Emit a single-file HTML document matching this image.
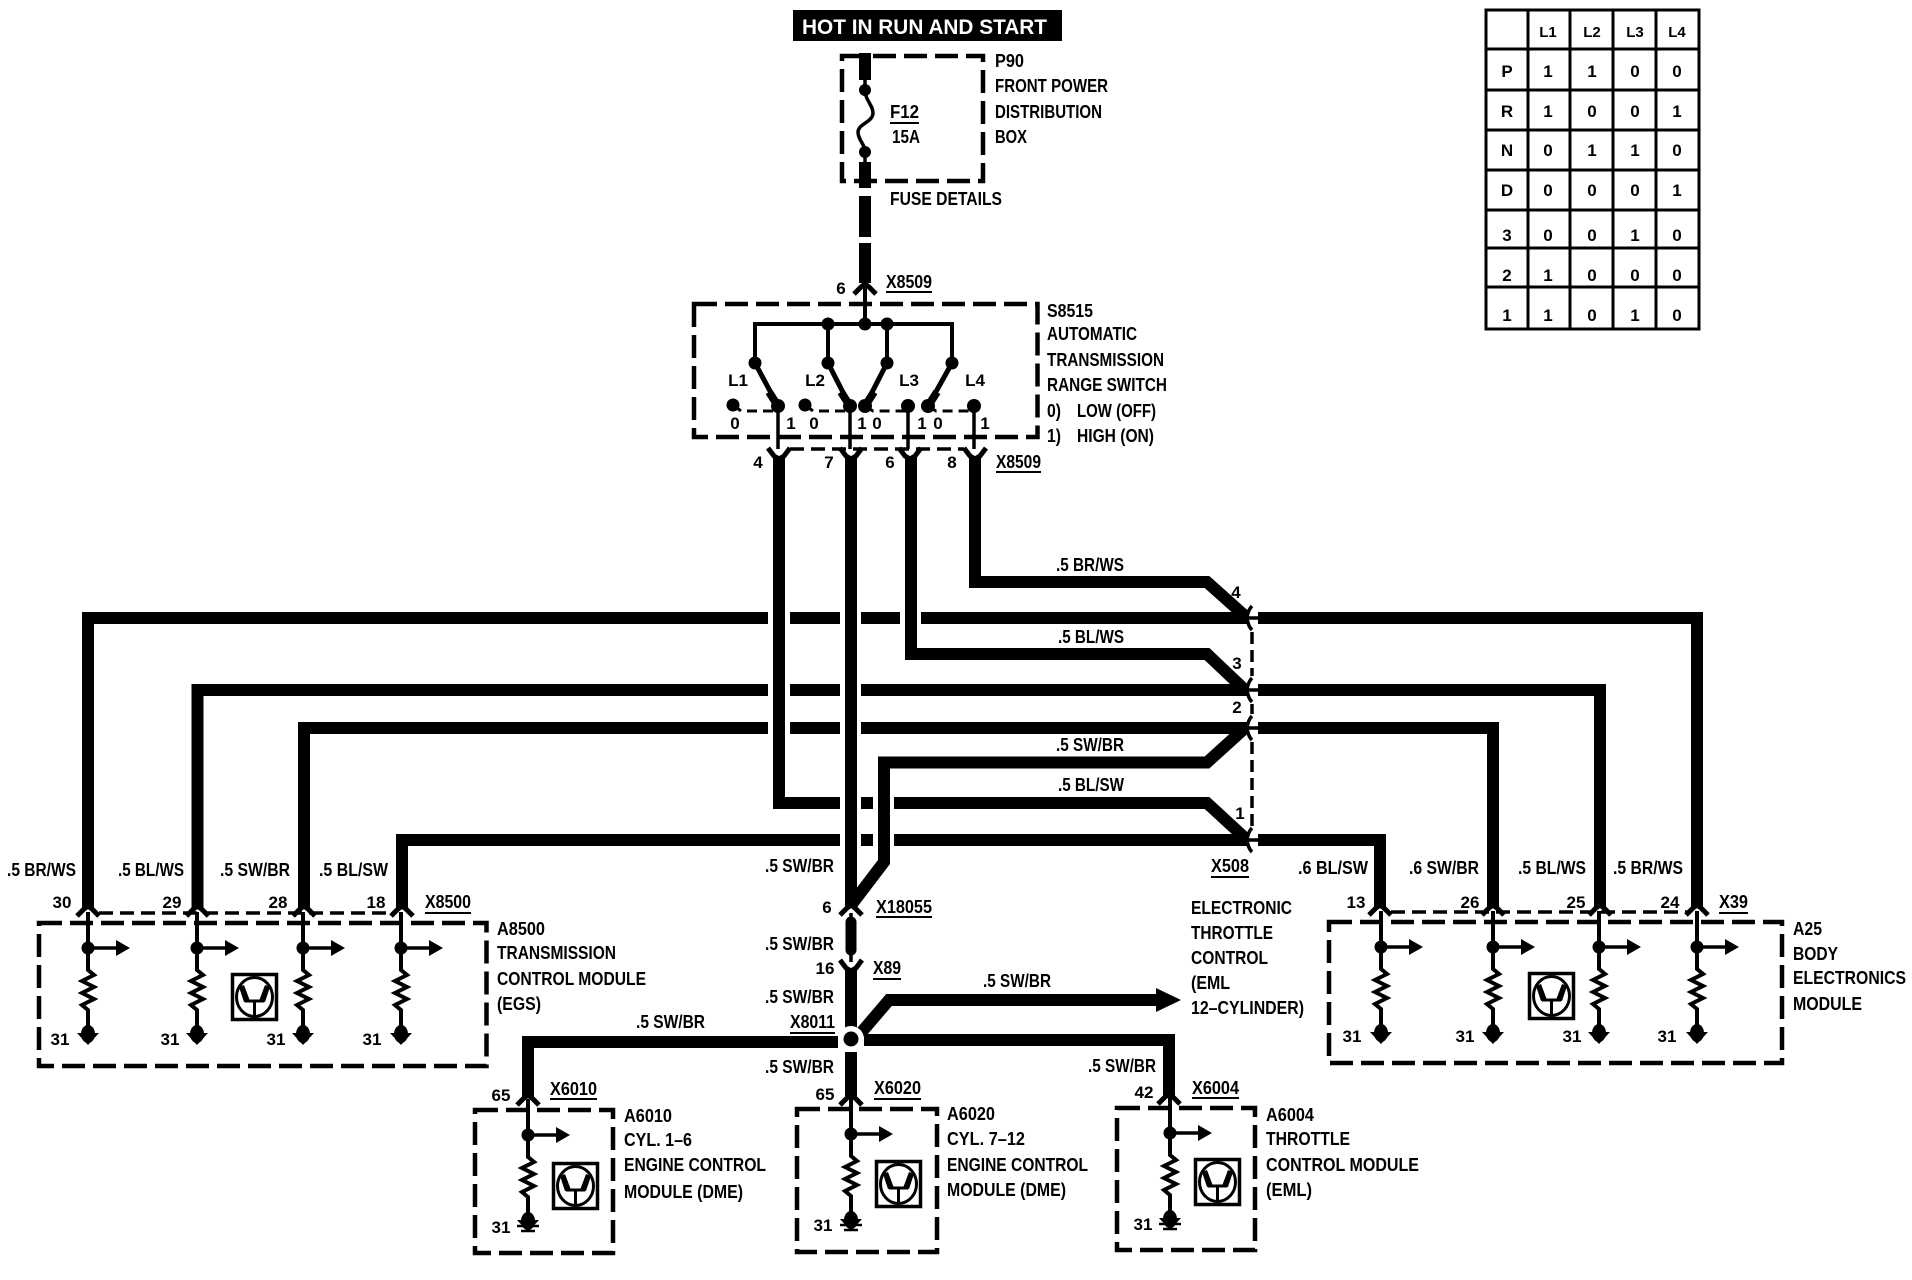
<!DOCTYPE html>
<html><head><meta charset="utf-8"><style>
html,body{margin:0;padding:0;background:#fff}
svg{display:block}
text{font-family:"Liberation Sans",sans-serif;font-weight:bold;font-size:18px;fill:#000}
.n{font-size:17px;text-anchor:middle}
.m{font-size:17px;text-anchor:middle}
.w{fill:none;stroke:#000;stroke-width:12;stroke-linejoin:miter}
.th{fill:none;stroke:#000;stroke-width:3.5}
.d{fill:none;stroke:#000;stroke-width:4.5;stroke-dasharray:23 8}
.c{fill:none;stroke:#000;stroke-width:3.5;stroke-dasharray:14 7}
.u{stroke:#000;stroke-width:2}
</style></head><body>
<svg width="1912" height="1280" viewBox="0 0 1912 1280" xmlns="http://www.w3.org/2000/svg">
<defs>
<g id="pin">
<path class="th" d="M0,-36V22L6,27L-6,33L6,39L-6,45L6,51L-6,57L0,62V80" style="stroke-width:4"/>
<circle cx="0" cy="0" r="6.500"/>
<path class="th" d="M0,0H30"/><polygon points="28,-8 42,0 28,8"/>
<ellipse cx="0" cy="86" rx="7" ry="9"/><polygon points="-11,85 11,85 0,97"/>
</g>
<g id="tr">
<rect x="1.500" y="1.500" width="44" height="45" fill="#fff" stroke="#000" stroke-width="3.500"/>
<ellipse cx="23.500" cy="24" rx="18" ry="19.500" fill="none" stroke="#000" stroke-width="3"/>
<path d="M23.500,43V28M14,28H33" fill="none" stroke="#000" stroke-width="3"/>
<polygon points="13,29 8,14 13,12 19,28"/><polygon points="34,29 39,14 34,12 28,28"/>
</g>
<path id="ca" d="M-11,9L-4,2L0,-1L4,2L11,9" fill="none" stroke="#000" stroke-width="5" stroke-linejoin="round"/>
<path id="ve" d="M-11,-1L-5,7L0,10L5,7L11,-1" fill="none" stroke="#000" stroke-width="5" stroke-linejoin="round"/>
<path id="lt" d="M5,-12Q1,-8 0,0Q1,8 5,12M0,0H11" fill="none" stroke="#000" stroke-width="3.500"/>
</defs>

<!-- header -->
<rect x="793" y="10" width="269" height="31"/>
<text x="802" y="34" textLength="245" lengthAdjust="spacingAndGlyphs" style="fill:#fff;font-size:21px">HOT IN RUN AND START</text>

<!-- table -->
<g fill="none" stroke="#000" stroke-width="3">
<rect x="1486" y="10" width="213" height="319"/>
<path d="M1528,10V329M1570,10V329M1613,10V329M1656,10V329M1486,49H1699M1486,90H1699M1486,130H1699M1486,170H1699M1486,210H1699M1486,248H1699M1486,287H1699"/>
</g>
<g class="tb">
<text class="m" style="font-size:15px" x="1548" y="37">L1</text><text class="m" style="font-size:15px" x="1592" y="37">L2</text><text class="m" style="font-size:15px" x="1635" y="37">L3</text><text class="m" style="font-size:15px" x="1677" y="37">L4</text>
<text class="m" x="1507" y="77">P</text><text class="m" x="1548" y="77">1</text><text class="m" x="1592" y="77">1</text><text class="m" x="1635" y="77">0</text><text class="m" x="1677" y="77">0</text>
<text class="m" x="1507" y="117">R</text><text class="m" x="1548" y="117">1</text><text class="m" x="1592" y="117">0</text><text class="m" x="1635" y="117">0</text><text class="m" x="1677" y="117">1</text>
<text class="m" x="1507" y="156">N</text><text class="m" x="1548" y="156">0</text><text class="m" x="1592" y="156">1</text><text class="m" x="1635" y="156">1</text><text class="m" x="1677" y="156">0</text>
<text class="m" x="1507" y="196">D</text><text class="m" x="1548" y="196">0</text><text class="m" x="1592" y="196">0</text><text class="m" x="1635" y="196">0</text><text class="m" x="1677" y="196">1</text>
<text class="m" x="1507" y="241">3</text><text class="m" x="1548" y="241">0</text><text class="m" x="1592" y="241">0</text><text class="m" x="1635" y="241">1</text><text class="m" x="1677" y="241">0</text>
<text class="m" x="1507" y="281">2</text><text class="m" x="1548" y="281">1</text><text class="m" x="1592" y="281">0</text><text class="m" x="1635" y="281">0</text><text class="m" x="1677" y="281">0</text>
<text class="m" x="1507" y="321">1</text><text class="m" x="1548" y="321">1</text><text class="m" x="1592" y="321">0</text><text class="m" x="1635" y="321">1</text><text class="m" x="1677" y="321">0</text>
</g>

<!-- P90 -->
<rect class="d" x="842" y="56" width="141" height="125"/>
<path class="w" d="M865,53V80M865,162V188M865,196V237M865,243V283"/>
<path d="M865,80V90C865,100 873,105 873,113C873,122 858,124 858,132C858,140 865,144 865,152V162" fill="none" stroke="#000" stroke-width="3.500"/>
<circle cx="865" cy="90" r="6"/><circle cx="865" cy="152" r="6"/>
<text x="890" y="118" textLength="29" lengthAdjust="spacingAndGlyphs">F12</text><line class="u" x1="890" y1="123" x2="919" y2="123"/>
<text x="892" y="143" textLength="28" lengthAdjust="spacingAndGlyphs">15A</text>
<text x="995" y="67" textLength="29" lengthAdjust="spacingAndGlyphs">P90</text>
<text x="995" y="92" textLength="113" lengthAdjust="spacingAndGlyphs">FRONT POWER</text>
<text x="995" y="118" textLength="107" lengthAdjust="spacingAndGlyphs">DISTRIBUTION</text>
<text x="995" y="143" textLength="32" lengthAdjust="spacingAndGlyphs">BOX</text>
<text x="890" y="205" textLength="112" lengthAdjust="spacingAndGlyphs">FUSE DETAILS</text>

<!-- S8515 -->
<use href="#ca" x="865" y="285"/>
<text class="n" x="841" y="294">6</text>
<text x="886" y="288" textLength="46" lengthAdjust="spacingAndGlyphs">X8509</text><line class="u" x1="886" y1="292" x2="932" y2="292"/>
<rect class="d" x="694" y="304" width="343.500" height="133"/>
<path class="th" d="M865,285V324M755,363V324H952V363M828,324V363M887,324V363" style="stroke-width:4"/>
<g><circle cx="828" cy="324" r="6.500"/><circle cx="865" cy="324" r="6.500"/><circle cx="887" cy="324" r="6.500"/>
<circle cx="755" cy="363" r="6.500"/><circle cx="828" cy="363" r="6.500"/><circle cx="887" cy="363" r="6.500"/><circle cx="952" cy="363" r="6.500"/>
<circle cx="733" cy="405" r="6.500"/><circle cx="778" cy="406" r="7"/><circle cx="805" cy="405" r="6.500"/><circle cx="850" cy="406" r="7"/><circle cx="865" cy="406" r="7"/><circle cx="908" cy="406" r="7"/><circle cx="928" cy="406" r="7"/><circle cx="974" cy="406" r="7"/></g>
<path d="M755,363L778,406M828,363L850,406M887,363L865,406M952,363L928,406" fill="none" stroke="#000" stroke-width="5"/>
<path d="M769,392L778,406M841,392L850,406M874,392L865,406M937,392L928,406" fill="none" stroke="#000" stroke-width="8"/>
<path d="M733,405L741,411H778M805,405L813,411H850M865,406L873,411H908M928,406L936,411H974" fill="none" stroke="#000" stroke-width="3" stroke-dasharray="10 6"/>
<path class="th" d="M778,406V449M850,406V449M908,406V449M974,406V449"/>
<text x="738" y="386" class="n">L1</text><text x="815" y="386" class="n">L2</text><text x="909" y="386" class="n">L3</text><text x="975" y="386" class="n">L4</text>
<text class="n" x="735" y="429">0</text><text class="n" x="791" y="429">1</text><text class="n" x="814" y="429">0</text><text class="n" x="862" y="429">1</text><text class="n" x="877" y="429">0</text><text class="n" x="922" y="429">1</text><text class="n" x="938" y="429">0</text><text class="n" x="985" y="429">1</text>
<text x="1047" y="317" textLength="46" lengthAdjust="spacingAndGlyphs">S8515</text>
<text x="1047" y="340" textLength="90" lengthAdjust="spacingAndGlyphs">AUTOMATIC</text>
<text x="1047" y="366" textLength="117" lengthAdjust="spacingAndGlyphs">TRANSMISSION</text>
<text x="1047" y="391" textLength="120" lengthAdjust="spacingAndGlyphs">RANGE SWITCH</text>
<text x="1047" y="417" textLength="14" lengthAdjust="spacingAndGlyphs">0)</text><text x="1077" y="417" textLength="79" lengthAdjust="spacingAndGlyphs">LOW (OFF)</text>
<text x="1047" y="442" textLength="14" lengthAdjust="spacingAndGlyphs">1)</text><text x="1077" y="442" textLength="77" lengthAdjust="spacingAndGlyphs">HIGH (ON)</text>
<path class="c" d="M790,449H964"/>
<use href="#ve" x="779" y="449"/><use href="#ve" x="851" y="449"/><use href="#ve" x="910" y="449"/><use href="#ve" x="975" y="449"/>
<text class="n" x="758" y="468">4</text><text class="n" x="829" y="468">7</text><text class="n" x="890" y="468">6</text><text class="n" x="952" y="468">8</text>
<text x="996" y="468" textLength="45" lengthAdjust="spacingAndGlyphs">X8509</text><line class="u" x1="996" y1="472" x2="1041" y2="472"/>

<!-- wires -->
<path class="w" d="M779,456V803H840"/>
<path class="w" d="M851,456V906"/>
<path class="w" d="M911,456V654H1207L1245,690"/>
<path class="w" d="M975,456V582H1207L1245,616"/>
<path class="w" d="M88,908V618H768M790,618H840M861,618H900M921,618H1247"/>
<path class="w" d="M197.500,908V690H768M790,690H840M861,690H1247"/>
<path class="w" d="M304,908V728H768M790,728H840M861,728H1247"/>
<path class="w" d="M402,908V840H840M861,840H873M894,840H1247"/>
<path class="w" d="M861,803H873M894,803H1207L1245,838"/>
<path class="w" d="M1245,728L1207,762.500H884V862L852,904"/>
<path class="w" d="M1258,618H1697V908"/>
<path class="w" d="M1258,690H1600V908"/>
<path class="w" d="M1258,728H1493V908"/>
<path class="w" d="M1258,840H1380V908"/>
<rect x="1249" y="606" width="7" height="240" fill="#fff"/>
<use href="#lt" x="1247" y="618"/><use href="#lt" x="1247" y="690"/><use href="#lt" x="1247" y="728"/><use href="#lt" x="1247" y="840"/>
<path d="M1252,632V676M1252,704V714M1252,742V826" fill="none" stroke="#000" stroke-width="3.500" stroke-dasharray="12 6"/>
<text x="1056" y="571" textLength="68" lengthAdjust="spacingAndGlyphs">.5 BR/WS</text>
<text x="1058" y="643" textLength="66" lengthAdjust="spacingAndGlyphs">.5 BL/WS</text>
<text x="1056" y="751" textLength="68" lengthAdjust="spacingAndGlyphs">.5 SW/BR</text>
<text x="1058" y="791" textLength="66" lengthAdjust="spacingAndGlyphs">.5 BL/SW</text>
<text class="n" x="1236" y="598">4</text><text class="n" x="1237" y="669">3</text><text class="n" x="1237" y="713">2</text><text class="n" x="1240" y="819">1</text>
<text x="1211" y="872" textLength="38" lengthAdjust="spacingAndGlyphs">X508</text><line class="u" x1="1211" y1="877" x2="1249" y2="877"/>

<!-- A8500 -->
<text x="7" y="876" textLength="69" lengthAdjust="spacingAndGlyphs">.5 BR/WS</text>
<text x="118" y="876" textLength="66" lengthAdjust="spacingAndGlyphs">.5 BL/WS</text>
<text x="220" y="876" textLength="70" lengthAdjust="spacingAndGlyphs">.5 SW/BR</text>
<text x="319" y="876" textLength="69" lengthAdjust="spacingAndGlyphs">.5 BL/SW</text>
<text class="n" x="62" y="908">30</text><text class="n" x="172" y="908">29</text><text class="n" x="278" y="908">28</text><text class="n" x="376" y="908">18</text>
<text x="425" y="908" textLength="46" lengthAdjust="spacingAndGlyphs">X8500</text><line class="u" x1="425" y1="913" x2="471" y2="913"/>
<path class="c" d="M99,913H392"/>
<rect class="d" x="39" y="923" width="447.500" height="143"/>
<use href="#ca" x="88" y="907"/><use href="#ca" x="197.500" y="907"/><use href="#ca" x="304" y="907"/><use href="#ca" x="402" y="907"/>
<use href="#pin" x="88" y="948"/><use href="#pin" x="197" y="948"/><use href="#pin" x="303" y="948"/><use href="#pin" x="401" y="948"/>
<use href="#tr" x="231" y="973"/>
<text class="n" x="60" y="1045">31</text><text class="n" x="170" y="1045">31</text><text class="n" x="276" y="1045">31</text><text class="n" x="372" y="1045">31</text>
<text x="497" y="935" textLength="48" lengthAdjust="spacingAndGlyphs">A8500</text>
<text x="497" y="959" textLength="119" lengthAdjust="spacingAndGlyphs">TRANSMISSION</text>
<text x="497" y="985" textLength="149" lengthAdjust="spacingAndGlyphs">CONTROL MODULE</text>
<text x="497" y="1010" textLength="44" lengthAdjust="spacingAndGlyphs">(EGS)</text>

<!-- A25 -->
<text x="1298" y="874" textLength="70" lengthAdjust="spacingAndGlyphs">.6 BL/SW</text>
<text x="1409" y="874" textLength="70" lengthAdjust="spacingAndGlyphs">.6 SW/BR</text>
<text x="1518" y="874" textLength="68" lengthAdjust="spacingAndGlyphs">.5 BL/WS</text>
<text x="1613" y="874" textLength="70" lengthAdjust="spacingAndGlyphs">.5 BR/WS</text>
<text class="n" x="1356" y="908">13</text><text class="n" x="1470" y="908">26</text><text class="n" x="1576" y="908">25</text><text class="n" x="1670" y="908">24</text>
<text x="1719" y="908" textLength="29" lengthAdjust="spacingAndGlyphs">X39</text><line class="u" x1="1719" y1="913" x2="1748" y2="913"/>
<path class="c" d="M1391,912H1687"/>
<rect class="d" x="1329" y="922" width="453" height="141"/>
<use href="#ca" x="1380" y="906"/><use href="#ca" x="1493" y="906"/><use href="#ca" x="1600" y="906"/><use href="#ca" x="1697" y="906"/>
<use href="#pin" x="1381" y="947"/><use href="#pin" x="1493" y="947"/><use href="#pin" x="1599" y="947"/><use href="#pin" x="1697" y="947"/>
<use href="#tr" x="1528" y="972"/>
<text class="n" x="1352" y="1042">31</text><text class="n" x="1465" y="1042">31</text><text class="n" x="1572" y="1042">31</text><text class="n" x="1667" y="1042">31</text>
<text x="1793" y="935" textLength="29" lengthAdjust="spacingAndGlyphs">A25</text>
<text x="1793" y="960" textLength="45" lengthAdjust="spacingAndGlyphs">BODY</text>
<text x="1793" y="984" textLength="113" lengthAdjust="spacingAndGlyphs">ELECTRONICS</text>
<text x="1793" y="1010" textLength="69" lengthAdjust="spacingAndGlyphs">MODULE</text>

<!-- lower trunk -->
<text x="765" y="872" textLength="69" lengthAdjust="spacingAndGlyphs">.5 SW/BR</text>
<use href="#ca" x="851" y="906"/>
<text class="n" x="827" y="913">6</text>
<text x="876" y="913" textLength="56" lengthAdjust="spacingAndGlyphs">X18055</text><line class="u" x1="876" y1="917" x2="932" y2="917"/>
<path class="th" d="M851,913V962"/>
<path d="M851,922V950" stroke="#000" stroke-width="11" stroke-linecap="round"/>
<text x="765" y="950" textLength="69" lengthAdjust="spacingAndGlyphs">.5 SW/BR</text>
<use href="#ve" x="851" y="961"/>
<text class="n" x="825" y="974">16</text>
<text x="873" y="974" textLength="28" lengthAdjust="spacingAndGlyphs">X89</text><line class="u" x1="873" y1="979" x2="901" y2="979"/>
<path class="w" d="M851,968V1030"/>
<text x="765" y="1003" textLength="69" lengthAdjust="spacingAndGlyphs">.5 SW/BR</text>
<path class="w" d="M860,1034L889,1000H1158"/>
<polygon points="1156,988 1181,1000 1156,1012"/>
<text x="983" y="987" textLength="68" lengthAdjust="spacingAndGlyphs">.5 SW/BR</text>
<text x="1191" y="914" textLength="101" lengthAdjust="spacingAndGlyphs">ELECTRONIC</text>
<text x="1191" y="939" textLength="82" lengthAdjust="spacingAndGlyphs">THROTTLE</text>
<text x="1191" y="964" textLength="77" lengthAdjust="spacingAndGlyphs">CONTROL</text>
<text x="1191" y="989" textLength="39" lengthAdjust="spacingAndGlyphs">(EML</text>
<text x="1191" y="1014" textLength="113" lengthAdjust="spacingAndGlyphs">12–CYLINDER)</text>
<path class="w" d="M528,1097V1042H838"/>
<path class="w" d="M864,1040H1169V1096"/>
<path class="w" d="M851,1052V1096"/>
<circle cx="851" cy="1039" r="13" fill="#fff"/><circle cx="851" cy="1039" r="7.500"/>
<text x="636" y="1028" textLength="69" lengthAdjust="spacingAndGlyphs">.5 SW/BR</text>
<text x="790" y="1028" textLength="45" lengthAdjust="spacingAndGlyphs">X8011</text><line class="u" x1="790" y1="1033" x2="835" y2="1033"/>
<text x="765" y="1073" textLength="69" lengthAdjust="spacingAndGlyphs">.5 SW/BR</text>
<text x="1088" y="1072" textLength="68" lengthAdjust="spacingAndGlyphs">.5 SW/BR</text>

<!-- A6010 -->
<text class="n" x="501" y="1101">65</text>
<text x="550" y="1095" textLength="47" lengthAdjust="spacingAndGlyphs">X6010</text><line class="u" x1="550" y1="1099" x2="597" y2="1099"/>
<rect class="d" x="475" y="1110" width="138" height="143"/>
<use href="#ca" x="528" y="1096"/><use href="#pin" x="528" y="1135"/>
<path d="M517,1226H539M521,1231H535" stroke="#000" stroke-width="2.500"/>
<use href="#tr" x="552" y="1162"/>
<text class="n" x="501" y="1233">31</text>
<text x="624" y="1122" textLength="48" lengthAdjust="spacingAndGlyphs">A6010</text>
<text x="624" y="1146" textLength="68" lengthAdjust="spacingAndGlyphs">CYL. 1–6</text>
<text x="624" y="1171" textLength="142" lengthAdjust="spacingAndGlyphs">ENGINE CONTROL</text>
<text x="624" y="1198" textLength="119" lengthAdjust="spacingAndGlyphs">MODULE (DME)</text>

<!-- A6020 -->
<text class="n" x="825" y="1100">65</text>
<text x="874" y="1094" textLength="47" lengthAdjust="spacingAndGlyphs">X6020</text><line class="u" x1="874" y1="1099" x2="921" y2="1099"/>
<rect class="d" x="797" y="1109" width="140" height="143"/>
<use href="#ca" x="851" y="1096"/><use href="#pin" x="851" y="1134"/>
<path d="M840,1225H862M844,1230H858" stroke="#000" stroke-width="2.500"/>
<use href="#tr" x="875" y="1160"/>
<text class="n" x="823" y="1231">31</text>
<text x="947" y="1120" textLength="48" lengthAdjust="spacingAndGlyphs">A6020</text>
<text x="947" y="1145" textLength="78" lengthAdjust="spacingAndGlyphs">CYL. 7–12</text>
<text x="947" y="1171" textLength="141" lengthAdjust="spacingAndGlyphs">ENGINE CONTROL</text>
<text x="947" y="1196" textLength="119" lengthAdjust="spacingAndGlyphs">MODULE (DME)</text>

<!-- A6004 -->
<text class="n" x="1144" y="1098">42</text>
<text x="1192" y="1094" textLength="47" lengthAdjust="spacingAndGlyphs">X6004</text><line class="u" x1="1192" y1="1098" x2="1239" y2="1098"/>
<rect class="d" x="1117" y="1108" width="138" height="142"/>
<use href="#ca" x="1169" y="1095"/><use href="#pin" x="1170" y="1133"/>
<path d="M1159,1224H1181M1163,1229H1177" stroke="#000" stroke-width="2.500"/>
<use href="#tr" x="1194" y="1158"/>
<text class="n" x="1143" y="1230">31</text>
<text x="1266" y="1121" textLength="48" lengthAdjust="spacingAndGlyphs">A6004</text>
<text x="1266" y="1145" textLength="84" lengthAdjust="spacingAndGlyphs">THROTTLE</text>
<text x="1266" y="1171" textLength="153" lengthAdjust="spacingAndGlyphs">CONTROL MODULE</text>
<text x="1266" y="1196" textLength="46" lengthAdjust="spacingAndGlyphs">(EML)</text>
</svg>
</body></html>
